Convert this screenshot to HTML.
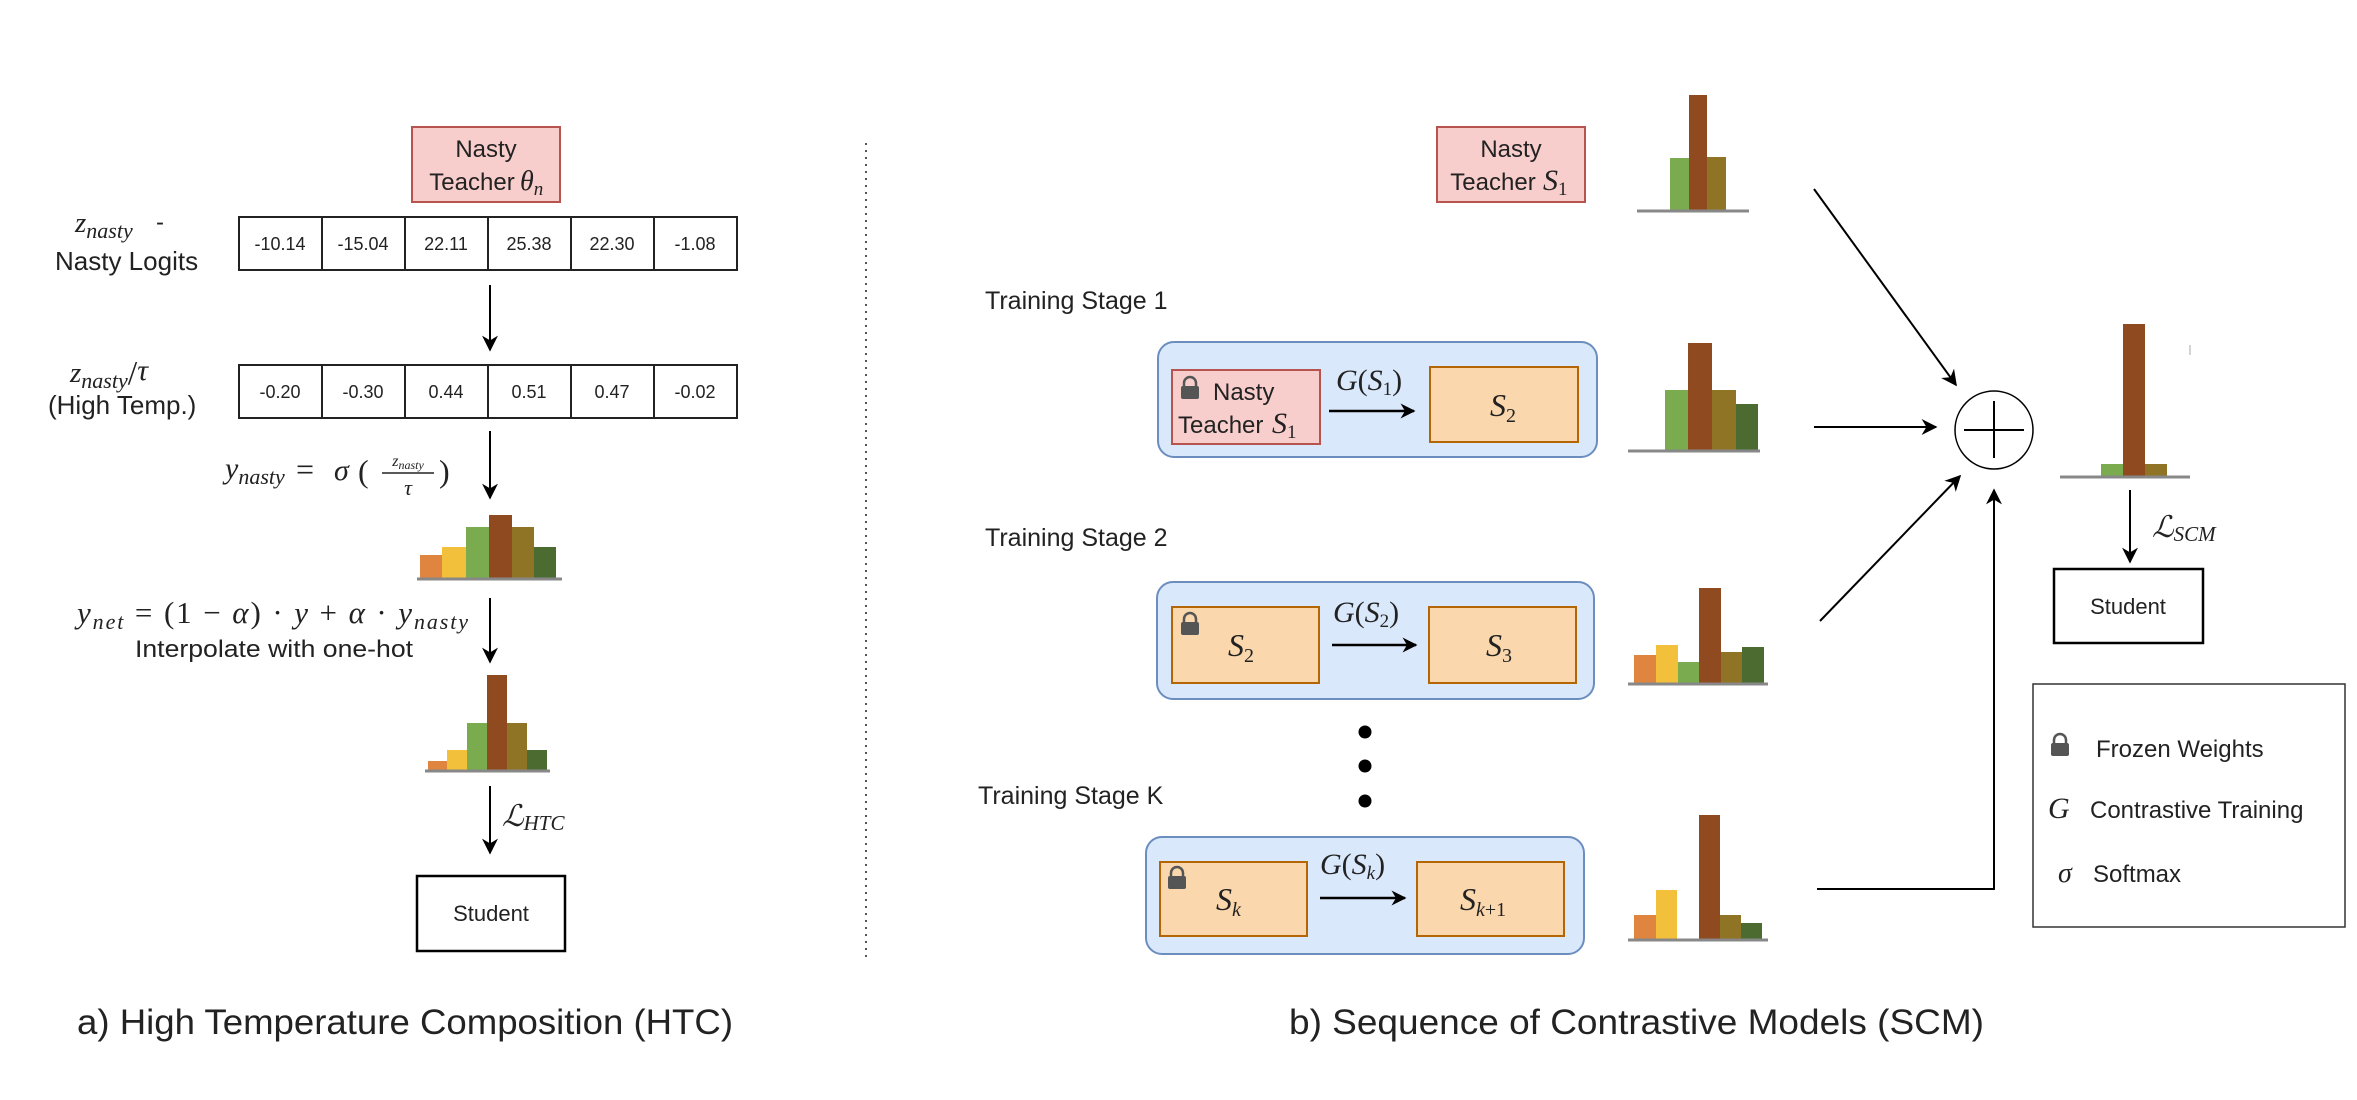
<!DOCTYPE html>
<html><head><meta charset="utf-8"><style>
html,body{margin:0;padding:0;background:#fff;}
svg{display:block;}
.s{font-family:"Liberation Sans",Arial,sans-serif;fill:#222;}
.m{font-family:"Liberation Serif","DejaVu Serif",serif;font-style:italic;fill:#222;}
.mr{font-family:"Liberation Serif","DejaVu Serif",serif;fill:#222;}
</style></head><body>
<svg width="2357" height="1100" viewBox="0 0 2357 1100" xmlns="http://www.w3.org/2000/svg">
<defs>
<marker id="ah" viewBox="0 0 10 10" refX="9" refY="5" markerWidth="15" markerHeight="15" markerUnits="userSpaceOnUse" orient="auto"><path d="M0,0 L10,5 L0,10 L3,5 z" fill="#000"/></marker>
<marker id="ah2" viewBox="0 0 10 10" refX="9" refY="5" markerWidth="16" markerHeight="16" markerUnits="userSpaceOnUse" orient="auto"><path d="M0,0 L10,5 L0,10 L3,5 z" fill="#000"/></marker>
<g id="lock"><path d="M3,10 V6 a6,6 0 0 1 12,0 V10" fill="none" stroke="#555" stroke-width="2.5"/><rect x="0" y="9" width="18" height="13" rx="2" fill="#555"/></g>
</defs>
<rect width="2357" height="1100" fill="#fff"/>

<!-- LEFT PANEL -->
<rect x="412" y="127" width="148" height="75" fill="#f8cecc" stroke="#b85450" stroke-width="2"/>
<text class="s" x="486" y="157" font-size="24" text-anchor="middle">Nasty</text>
<text class="s" x="472" y="190" font-size="24" text-anchor="middle">Teacher</text>
<text class="m" x="520" y="190" font-size="28">θ<tspan font-size="19" dy="5">n</tspan></text>

<text class="m" x="75" y="232" font-size="29">z<tspan font-size="22" dy="6">nasty</tspan></text>
<text class="s" x="156" y="230" font-size="24">-</text>
<text class="s" x="55" y="270" font-size="26">Nasty Logits</text>

<g stroke="#222" stroke-width="2" fill="#fff">
<rect x="239" y="217" width="498" height="53"/>
<line x1="322" y1="217" x2="322" y2="270"/><line x1="405" y1="217" x2="405" y2="270"/><line x1="488" y1="217" x2="488" y2="270"/><line x1="571" y1="217" x2="571" y2="270"/><line x1="654" y1="217" x2="654" y2="270"/>
<rect x="239" y="365" width="498" height="53"/>
<line x1="322" y1="365" x2="322" y2="418"/><line x1="405" y1="365" x2="405" y2="418"/><line x1="488" y1="365" x2="488" y2="418"/><line x1="571" y1="365" x2="571" y2="418"/><line x1="654" y1="365" x2="654" y2="418"/>
</g>
<g class="s" font-size="18" text-anchor="middle">
<text x="280" y="250">-10.14</text><text x="363" y="250">-15.04</text><text x="446" y="250">22.11</text><text x="529" y="250">25.38</text><text x="612" y="250">22.30</text><text x="695" y="250">-1.08</text>
<text x="280" y="398">-0.20</text><text x="363" y="398">-0.30</text><text x="446" y="398">0.44</text><text x="529" y="398">0.51</text><text x="612" y="398">0.47</text><text x="695" y="398">-0.02</text>
</g>
<line x1="490" y1="285" x2="490" y2="350" stroke="#000" stroke-width="2" marker-end="url(#ah2)"/>

<text class="m" x="70" y="382" font-size="29">z<tspan font-size="22" dy="6">nasty</tspan><tspan font-size="34" dy="-4" font-style="normal">/</tspan><tspan font-size="30" dy="-4">τ</tspan></text>
<text class="s" x="48" y="414" font-size="26">(High Temp.)</text>

<line x1="490" y1="431" x2="490" y2="498" stroke="#000" stroke-width="2" marker-end="url(#ah2)"/>
<text class="m" x="225" y="478" font-size="30">y<tspan font-size="22" dy="6">nasty</tspan></text>
<text class="mr" x="296" y="480" font-size="32">=</text>
<text class="m" x="334" y="480" font-size="30">σ</text>
<text class="mr" x="358" y="482" font-size="32">(</text>
<text class="m" x="408" y="466" font-size="16" text-anchor="middle">z<tspan font-size="12" dy="3">nasty</tspan></text>
<line x1="382" y1="473" x2="434" y2="473" stroke="#222" stroke-width="1.5"/>
<text class="m" x="408" y="495" font-size="22" text-anchor="middle">τ</text>
<text class="mr" x="439" y="482" font-size="32">)</text>

<!-- hist 1 -->
<rect x="420" y="555" width="22" height="23" fill="#e0853f"/>
<rect x="442" y="547" width="24" height="31" fill="#f2c03b"/>
<rect x="466" y="527" width="23" height="51" fill="#7aab4f"/>
<rect x="489" y="515" width="23" height="63" fill="#8f4a1f"/>
<rect x="512" y="527" width="22" height="51" fill="#8e7424"/>
<rect x="534" y="547" width="22" height="31" fill="#4b6b31"/>
<line x1="417" y1="579" x2="562" y2="579" stroke="#888" stroke-width="3"/>

<text class="m" x="77" y="623" font-size="31" textLength="391" lengthAdjust="spacing">y<tspan font-size="22" dy="6">net</tspan><tspan dy="-6" font-style="normal"> = (1 − </tspan>α<tspan font-style="normal">) · </tspan>y<tspan font-style="normal"> + </tspan>α<tspan font-style="normal"> · </tspan>y<tspan font-size="22" dy="6">nasty</tspan></text>
<text class="s" x="135" y="657" font-size="24" textLength="278" lengthAdjust="spacingAndGlyphs">Interpolate with one-hot</text>
<line x1="490" y1="598" x2="490" y2="662" stroke="#000" stroke-width="2" marker-end="url(#ah2)"/>

<!-- hist 2 -->
<rect x="428" y="761" width="19" height="9" fill="#e0853f"/>
<rect x="447" y="750" width="20" height="20" fill="#f2c03b"/>
<rect x="467" y="723" width="20" height="47" fill="#7aab4f"/>
<rect x="487" y="675" width="20" height="95" fill="#8f4a1f"/>
<rect x="507" y="723" width="20" height="47" fill="#8e7424"/>
<rect x="527" y="750" width="20" height="20" fill="#4b6b31"/>
<line x1="425" y1="771" x2="550" y2="771" stroke="#888" stroke-width="3"/>

<line x1="490" y1="786" x2="490" y2="853" stroke="#000" stroke-width="2" marker-end="url(#ah2)"/>
<text class="m" x="502" y="826" font-size="30">ℒ<tspan font-size="21" dy="4">HTC</tspan></text>

<rect x="417" y="876" width="148" height="75" fill="#fff" stroke="#000" stroke-width="2.5"/>
<text class="s" x="491" y="921" font-size="22" text-anchor="middle">Student</text>

<text class="s" x="77" y="1034" font-size="35" textLength="656" lengthAdjust="spacingAndGlyphs">a) High Temperature Composition (HTC)</text>

<line x1="866" y1="143" x2="866" y2="962" stroke="#555" stroke-width="2" stroke-dasharray="2,5"/>

<!-- RIGHT PANEL -->
<rect x="1437" y="127" width="148" height="75" fill="#f8cecc" stroke="#b85450" stroke-width="2"/>
<text class="s" x="1511" y="157" font-size="24" text-anchor="middle">Nasty</text>
<text class="s" x="1493" y="190" font-size="24" text-anchor="middle">Teacher</text>
<text class="m" x="1543" y="190" font-size="30">S<tspan font-size="19" dy="5" font-style="normal">1</tspan></text>

<rect x="1670" y="158" width="19" height="52" fill="#7aab4f"/>
<rect x="1689" y="95" width="18" height="115" fill="#8f4a1f"/>
<rect x="1707" y="157" width="19" height="53" fill="#8e7424"/>
<line x1="1637" y1="211" x2="1749" y2="211" stroke="#888" stroke-width="3"/>

<text class="s" x="985" y="309" font-size="25">Training Stage 1</text>
<rect x="1158" y="342" width="439" height="115" rx="16" fill="#dae8fc" stroke="#6c8ebf" stroke-width="2"/>
<rect x="1172" y="370" width="148" height="74" fill="#f8cecc" stroke="#b85450" stroke-width="2"/>
<use href="#lock" x="1181" y="377"/>
<text class="s" x="1213" y="400" font-size="24">Nasty</text>
<text class="s" x="1178" y="433" font-size="24">Teacher</text>
<text class="m" x="1272" y="433" font-size="30">S<tspan font-size="19" dy="5" font-style="normal">1</tspan></text>
<line x1="1329" y1="411" x2="1414" y2="411" stroke="#000" stroke-width="2.5" marker-end="url(#ah)"/>
<text class="m" x="1336" y="390" font-size="30">G<tspan font-style="normal">(</tspan>S<tspan font-size="19" dy="5" font-style="normal">1</tspan><tspan font-style="normal" dy="-5">)</tspan></text>
<rect x="1430" y="367" width="148" height="75" fill="#fad7ac" stroke="#b46504" stroke-width="2"/>
<text class="m" x="1490" y="416" font-size="32">S<tspan font-size="20" dy="6" font-style="normal">2</tspan></text>

<rect x="1665" y="390" width="23" height="60" fill="#7aab4f"/>
<rect x="1688" y="343" width="24" height="107" fill="#8f4a1f"/>
<rect x="1712" y="390" width="24" height="60" fill="#8e7424"/>
<rect x="1736" y="404" width="22" height="46" fill="#4b6b31"/>
<line x1="1628" y1="451" x2="1760" y2="451" stroke="#888" stroke-width="3"/>

<text class="s" x="985" y="546" font-size="25">Training Stage 2</text>
<rect x="1157" y="582" width="437" height="117" rx="16" fill="#dae8fc" stroke="#6c8ebf" stroke-width="2"/>
<rect x="1172" y="607" width="147" height="76" fill="#fad7ac" stroke="#b46504" stroke-width="2"/>
<use href="#lock" x="1181" y="613"/>
<text class="m" x="1228" y="656" font-size="32">S<tspan font-size="20" dy="6" font-style="normal">2</tspan></text>
<line x1="1332" y1="645" x2="1416" y2="645" stroke="#000" stroke-width="2.5" marker-end="url(#ah)"/>
<text class="m" x="1333" y="622" font-size="30">G<tspan font-style="normal">(</tspan>S<tspan font-size="19" dy="5" font-style="normal">2</tspan><tspan font-style="normal" dy="-5">)</tspan></text>
<rect x="1429" y="607" width="147" height="76" fill="#fad7ac" stroke="#b46504" stroke-width="2"/>
<text class="m" x="1486" y="656" font-size="32">S<tspan font-size="20" dy="6" font-style="normal">3</tspan></text>

<rect x="1634" y="655" width="22" height="28" fill="#e0853f"/>
<rect x="1656" y="645" width="22" height="38" fill="#f2c03b"/>
<rect x="1678" y="662" width="21" height="21" fill="#7aab4f"/>
<rect x="1699" y="588" width="22" height="95" fill="#8f4a1f"/>
<rect x="1721" y="652" width="21" height="31" fill="#8e7424"/>
<rect x="1742" y="647" width="22" height="36" fill="#4b6b31"/>
<line x1="1628" y1="684" x2="1768" y2="684" stroke="#888" stroke-width="3"/>

<circle cx="1365" cy="732" r="6.5" fill="#000"/>
<circle cx="1365" cy="766" r="6.5" fill="#000"/>
<circle cx="1365" cy="801" r="6.5" fill="#000"/>

<text class="s" x="978" y="804" font-size="25">Training Stage K</text>
<rect x="1146" y="837" width="438" height="117" rx="16" fill="#dae8fc" stroke="#6c8ebf" stroke-width="2"/>
<rect x="1160" y="862" width="147" height="74" fill="#fad7ac" stroke="#b46504" stroke-width="2"/>
<use href="#lock" x="1168" y="867"/>
<text class="m" x="1216" y="910" font-size="32">S<tspan font-size="20" dy="6">k</tspan></text>
<line x1="1320" y1="898" x2="1405" y2="898" stroke="#000" stroke-width="2.5" marker-end="url(#ah)"/>
<text class="m" x="1320" y="874" font-size="30">G<tspan font-style="normal">(</tspan>S<tspan font-size="19" dy="5">k</tspan><tspan font-style="normal" dy="-5">)</tspan></text>
<rect x="1417" y="862" width="147" height="74" fill="#fad7ac" stroke="#b46504" stroke-width="2"/>
<text class="m" x="1460" y="910" font-size="32">S<tspan font-size="20" dy="6">k</tspan><tspan font-size="20" font-style="normal">+1</tspan></text>

<rect x="1634" y="915" width="22" height="24" fill="#e0853f"/>
<rect x="1656" y="890" width="21" height="49" fill="#f2c03b"/>
<rect x="1699" y="815" width="21" height="124" fill="#8f4a1f"/>
<rect x="1720" y="915" width="21" height="24" fill="#8e7424"/>
<rect x="1741" y="923" width="21" height="16" fill="#4b6b31"/>
<line x1="1628" y1="940" x2="1768" y2="940" stroke="#888" stroke-width="3"/>

<text class="s" x="1289" y="1034" font-size="35" textLength="695" lengthAdjust="spacingAndGlyphs">b) Sequence of Contrastive Models (SCM)</text>

<!-- connectors -->
<line x1="1814" y1="189" x2="1956" y2="385" stroke="#000" stroke-width="2" marker-end="url(#ah2)"/>
<line x1="1814" y1="427" x2="1936" y2="427" stroke="#000" stroke-width="2" marker-end="url(#ah2)"/>
<line x1="1820" y1="621" x2="1960" y2="476" stroke="#000" stroke-width="2" marker-end="url(#ah2)"/>
<polyline points="1817,889 1994,889 1994,490" fill="none" stroke="#000" stroke-width="2" marker-end="url(#ah2)"/>
<circle cx="1994" cy="430" r="39" fill="#fff" stroke="#000" stroke-width="1.5"/>
<line x1="1964" y1="430" x2="2024" y2="430" stroke="#000" stroke-width="2"/>
<line x1="1994" y1="401" x2="1994" y2="458" stroke="#000" stroke-width="2"/>

<rect x="2101" y="464" width="22" height="12" fill="#7aab4f"/>
<rect x="2123" y="324" width="22" height="152" fill="#8f4a1f"/>
<rect x="2145" y="464" width="22" height="12" fill="#8e7424"/>
<line x1="2060" y1="477" x2="2190" y2="477" stroke="#888" stroke-width="3"/>
<line x1="2190" y1="345" x2="2190" y2="355" stroke="#aaa" stroke-width="1"/>

<line x1="2130" y1="490" x2="2130" y2="562" stroke="#000" stroke-width="2" marker-end="url(#ah2)"/>
<text class="m" x="2152" y="537" font-size="30">ℒ<tspan font-size="21" dy="4">SCM</tspan></text>
<rect x="2054" y="569" width="149" height="74" fill="#fff" stroke="#000" stroke-width="2.5"/>
<text class="s" x="2128" y="614" font-size="22" text-anchor="middle">Student</text>

<rect x="2033" y="684" width="312" height="243" fill="#fff" stroke="#333" stroke-width="1.5"/>
<use href="#lock" x="2051" y="734"/>
<text class="s" x="2096" y="757" font-size="24">Frozen Weights</text>
<text class="m" x="2048" y="818" font-size="30">G</text>
<text class="s" x="2090" y="818" font-size="24">Contrastive Training</text>
<text class="m" x="2058" y="882" font-size="28">σ</text>
<text class="s" x="2093" y="882" font-size="24">Softmax</text>
</svg>
</body></html>
